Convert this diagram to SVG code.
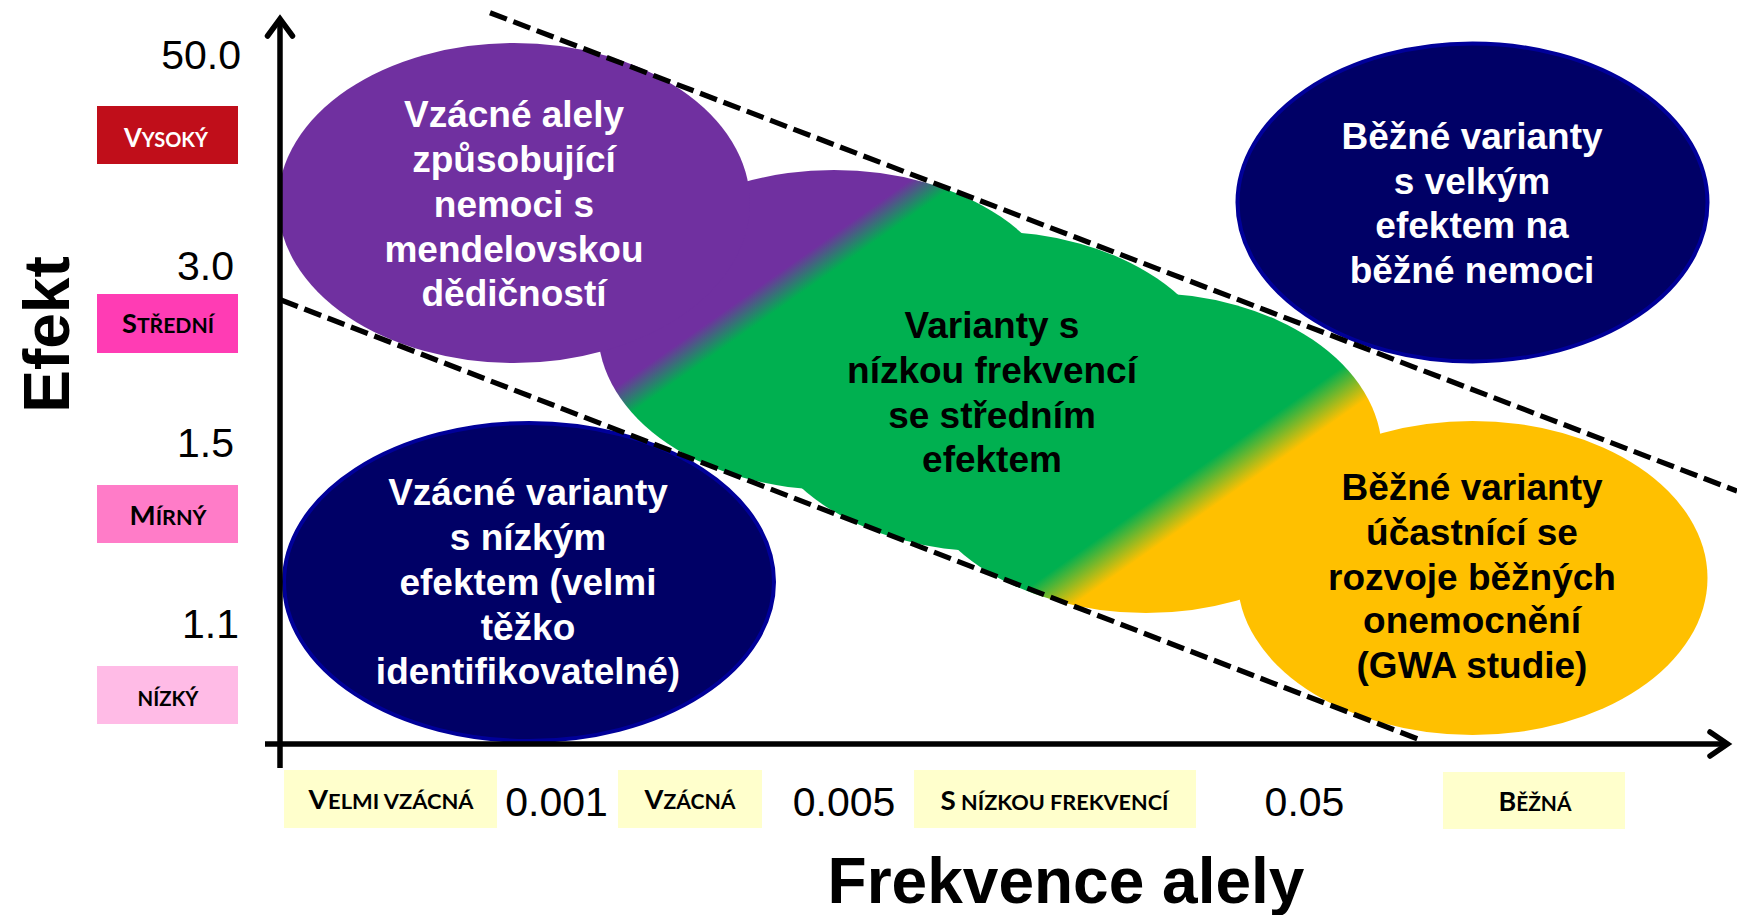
<svg xmlns="http://www.w3.org/2000/svg" width="1737" height="915" viewBox="0 0 1737 915">
<style>
.body{font-family:"Liberation Sans",Arial,sans-serif;font-weight:bold;font-size:37px;text-anchor:middle}
.w{fill:#ffffff}
.k{fill:#000000}
.num{font-family:"Liberation Sans",Arial,sans-serif;font-size:41px;fill:#000}
.sc{font-family:Lato,"Open Sans",sans-serif;font-weight:bold;font-size:21px;text-anchor:middle}
.big{font-size:27px}
.title{font-family:"Liberation Sans",Arial,sans-serif;font-weight:bold;font-size:64px;fill:#000;text-anchor:middle}
.dash{stroke:#000;stroke-width:5.2;stroke-dasharray:18 7;fill:none}
.axis{stroke:#000;stroke-width:5.5;fill:none}
.head{stroke:#000;stroke-width:5.5;fill:none;stroke-linecap:round;stroke-linejoin:miter}
.blue{fill:#000066;stroke:#000099;stroke-width:4}
</style>
<defs>
<linearGradient id="cloudGrad" gradientUnits="userSpaceOnUse" x1="365.7" y1="520.2" x2="657.2" y2="935">
<stop offset="0" stop-color="#7030A0"/>
<stop offset="0.069" stop-color="#7030A0"/>
<stop offset="0.128" stop-color="#00B050"/>
<stop offset="0.86" stop-color="#00B050"/>
<stop offset="0.939" stop-color="#FFC000"/>
<stop offset="1" stop-color="#FFC000"/>
</linearGradient>
</defs>
<rect x="0" y="0" width="1737" height="915" fill="#ffffff"/>

<g id="cloud-medium">
<ellipse cx="834" cy="330" rx="236" ry="160" fill="url(#cloudGrad)"/>
<ellipse cx="990" cy="391.5" rx="236" ry="160" fill="url(#cloudGrad)"/>
<ellipse cx="1146" cy="453" rx="236" ry="160" fill="url(#cloudGrad)"/>
<text class="body k" x="992"><tspan x="992" y="338">Varianty s</tspan><tspan x="992" y="383">nízkou frekvencí</tspan><tspan x="992" y="428">se středním</tspan><tspan x="992" y="472">efektem</tspan></text>
</g>

<g id="rare-mendelian">
<ellipse cx="514" cy="203" rx="236" ry="160" fill="#7030A0"/>
<text class="body w"><tspan x="514" y="127">Vzácné alely</tspan><tspan x="514" y="172">způsobující</tspan><tspan x="514" y="217">nemoci s</tspan><tspan x="514" y="262">mendelovskou</tspan><tspan x="514" y="306">dědičností</tspan></text>
</g>

<g id="rare-low-effect">
<ellipse class="blue" cx="529" cy="582" rx="245" ry="159"/>
<text class="body w"><tspan x="528" y="505">Vzácné varianty</tspan><tspan x="528" y="550">s nízkým</tspan><tspan x="528" y="595">efektem (velmi</tspan><tspan x="528" y="640">těžko</tspan><tspan x="528" y="684">identifikovatelné)</tspan></text>
</g>

<g id="common-high-effect">
<ellipse class="blue" cx="1472.5" cy="202.5" rx="235" ry="159"/>
<text class="body w"><tspan x="1472" y="149">Běžné varianty</tspan><tspan x="1472" y="194">s velkým</tspan><tspan x="1472" y="238">efektem na</tspan><tspan x="1472" y="283">běžné nemoci</tspan></text>
</g>

<g id="common-gwa">
<ellipse cx="1472.5" cy="578" rx="235" ry="157" fill="#FFC000"/>
<text class="body k"><tspan x="1472" y="500">Běžné varianty</tspan><tspan x="1472" y="545">účastnící se</tspan><tspan x="1472" y="590">rozvoje běžných</tspan><tspan x="1472" y="633">onemocnění</tspan><tspan x="1472" y="678">(GWA studie)</tspan></text>
</g>

<g id="connectors">
<line class="dash" x1="490" y1="12.7" x2="1737" y2="491"/>
<line class="dash" x1="281" y1="300" x2="1423" y2="741"/>
<line class="axis" x1="280" y1="768" x2="280" y2="20"/>
<polyline class="head" points="267.5,36 280,19 292.5,36"/>
<line class="axis" x1="265" y1="744" x2="1726" y2="744"/>
<polyline class="head" points="1710,732 1727.5,744 1710,756"/>
</g>

<g id="y-labels">
<text class="num" x="241" y="69" text-anchor="end">50.0</text>
<text class="num" x="234" y="280" text-anchor="end">3.0</text>
<text class="num" x="234" y="457" text-anchor="end">1.5</text>
<text class="num" x="239" y="638" text-anchor="end">1.1</text>
</g>

<g id="effect-high">
<rect x="97" y="106" width="141" height="58" fill="#C00E1A"/>
<text class="sc" x="166" y="147" fill="#ffffff" textLength="84" lengthAdjust="spacingAndGlyphs"><tspan class="big">V</tspan>YSOKÝ</text>
</g>
<g id="effect-medium">
<rect x="97" y="294" width="141" height="59" fill="#FF3CB4"/>
<text class="sc" x="168" y="333" fill="#000" textLength="92" lengthAdjust="spacingAndGlyphs"><tspan class="big">S</tspan>TŘEDNÍ</text>
</g>
<g id="effect-mild">
<rect x="97" y="485" width="141" height="58" fill="#FF7CC8"/>
<text class="sc" x="168" y="525" fill="#000" textLength="77" lengthAdjust="spacingAndGlyphs"><tspan class="big">M</tspan>ÍRNÝ</text>
</g>
<g id="effect-low">
<rect x="97" y="666" width="141" height="58" fill="#FFBBE6"/>
<text class="sc" x="168" y="706" fill="#000" textLength="61" lengthAdjust="spacingAndGlyphs">NÍZKÝ</text>
</g>

<g id="freq-very-rare">
<rect x="284" y="770" width="213" height="58" fill="#FFFFCC"/>
<text class="sc" x="391" y="809" fill="#000" textLength="165" lengthAdjust="spacingAndGlyphs"><tspan class="big">V</tspan>ELMI VZÁCNÁ</text>
</g>
<g id="freq-rare">
<rect x="618" y="770" width="144" height="58" fill="#FFFFCC"/>
<text class="sc" x="690" y="809" fill="#000" textLength="91" lengthAdjust="spacingAndGlyphs"><tspan class="big">V</tspan>ZÁCNÁ</text>
</g>
<g id="freq-low">
<rect x="914" y="770" width="282" height="58" fill="#FFFFCC"/>
<text class="sc" x="1054.5" y="810" fill="#000" textLength="228" lengthAdjust="spacingAndGlyphs"><tspan class="big">S</tspan> NÍZKOU FREKVENCÍ</text>
</g>
<g id="freq-common">
<rect x="1443" y="772" width="182" height="57" fill="#FFFFCC"/>
<text class="sc" x="1535" y="811" fill="#000" textLength="73" lengthAdjust="spacingAndGlyphs"><tspan class="big">B</tspan>ĚŽNÁ</text>
</g>

<g id="x-labels">
<text class="num" x="556.5" y="816" text-anchor="middle">0.001</text>
<text class="num" x="844" y="816" text-anchor="middle">0.005</text>
<text class="num" x="1304.5" y="816" text-anchor="middle">0.05</text>
</g>

<g id="axis-titles">
<text class="title" x="1066" y="903">Frekvence alely</text>
<text class="title" transform="translate(68.5,334.5) rotate(-90)" x="0" y="0">Efekt</text>
</g>
</svg>
